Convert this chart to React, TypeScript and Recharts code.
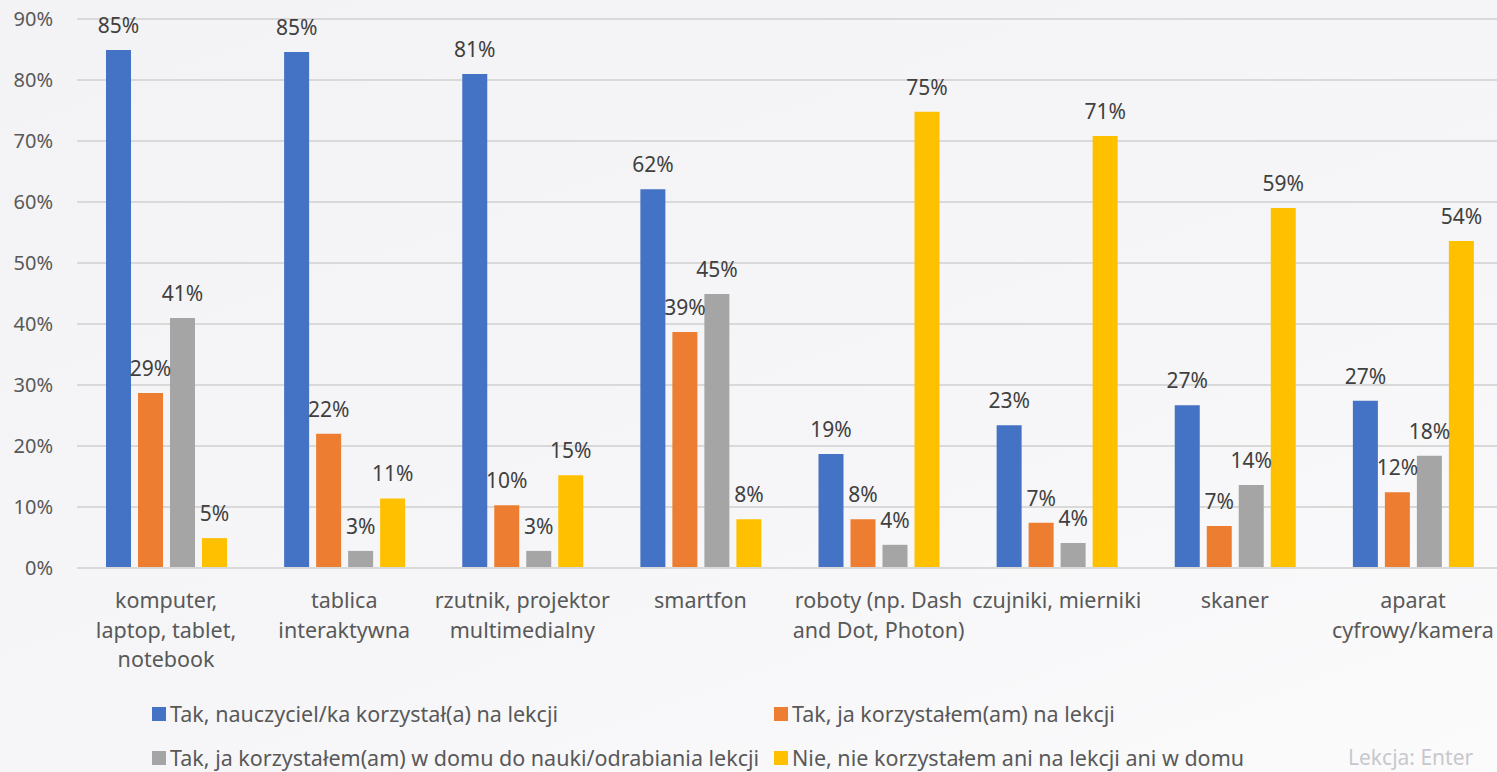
import { BarChart, Bar, XAxis, YAxis, CartesianGrid, LabelList } from 'recharts';

const categories = [
  'komputer,\nlaptop, tablet,\nnotebook',
  'tablica\ninteraktywna',
  'rzutnik, projektor\nmultimedialny',
  'smartfon',
  'roboty (np. Dash\nand Dot, Photon)',
  'czujniki, mierniki',
  'skaner',
  'aparat\ncyfrowy/kamera',
];

const teacherUsed = [84.9, 84.6, 81.0, 62.1, 18.7, 23.4, 26.7, 27.4];
const iUsedInClass = [28.7, 22.0, 10.3, 38.7, 8.0, 7.4, 6.9, 12.4];
const iUsedAtHome = [41.0, 2.8, 2.8, 44.9, 3.8, 4.1, 13.6, 18.4];
const notUsed = [4.9, 11.4, 15.2, 8.0, 74.8, 70.8, 59.0, 53.6];

const yTicks = [0, 10, 20, 30, 40, 50, 60, 70, 80, 90];

const series = [
  { key: 'teacher', name: 'Tak, nauczyciel/ka korzystał(a) na lekcji', color: '#4472c4', values: teacherUsed },
  { key: 'inClass', name: 'Tak, ja korzystałem(am) na lekcji', color: '#ed7d31', values: iUsedInClass },
  { key: 'atHome', name: 'Tak, ja korzystałem(am) w domu do nauki/odrabiania lekcji', color: '#a5a5a5', values: iUsedAtHome },
  { key: 'none', name: 'Nie, nie korzystałem ani na lekcji ani w domu', color: '#ffc000', values: notUsed },
];

const data = categories.map((c, i) => {
  const row: Record<string, string | number> = { category: c };
  series.forEach(s => {
    row[s.key] = s.values[i];
  });
  return row;
});

const FONT = '"Noto Sans", "Open Sans", sans-serif';

function CategoryTick(props: any) {
  const { x, y, payload } = props;
  const lines = String(payload.value).split('\n');
  return (
    <text x={x} y={y} textAnchor="middle" fill="#595959" fontSize={21.5} fontFamily={FONT}>
      {lines.map((line, i) => (
        <tspan key={i} x={x} dy={i === 0 ? 40 : 29.5}>
          {line}
        </tspan>
      ))}
    </text>
  );
}

const legendPos = [
  { left: 152, top: 699 },
  { left: 774, top: 699 },
  { left: 152, top: 743 },
  { left: 774, top: 743 },
];

export default function App() {
  return (
    <div
      style={{
        position: 'absolute',
        left: 0,
        top: 0,
        width: 1497,
        height: 772,
        overflow: 'hidden',
        background: 'linear-gradient(160deg, #f3f3f5 0%, #f6f6f8 60%, #fbfbfc 100%)',
        fontFamily: FONT,
      }}
    >
      <BarChart
        width={1497}
        height={772}
        data={data}
        margin={{ top: 19, right: -5, left: 0, bottom: 0 }}
        barGap={7}
        barSize={25}
      >
        <CartesianGrid vertical={false} stroke="#d9d9d9" strokeWidth={2} />
        <XAxis
          dataKey="category"
          height={204}
          interval={0}
          tickLine={false}
          tickSize={0}
          tickMargin={0}
          axisLine={{ stroke: '#d9d9d9', strokeWidth: 2 }}
          tick={<CategoryTick />}
        />
        <YAxis
          width={77}
          domain={[0, 90]}
          ticks={yTicks}
          interval={0}
          axisLine={false}
          tickLine={false}
          tickMargin={18}
          tickFormatter={(v: number) => `${v}%`}
          tick={{ fill: '#595959', fontSize: 20, fontFamily: FONT }}
        />
        {series.map(s => (
          <Bar key={s.key} dataKey={s.key} name={s.name} fill={s.color} isAnimationActive={false}>
            <LabelList
              dataKey={s.key}
              position="top"
              offset={17}
              formatter={(v: any) => `${Math.round(Number(v))}%`}
              style={{ fill: '#404040', fontSize: 21, fontFamily: FONT }}
            />
          </Bar>
        ))}
      </BarChart>
      {series.map((s, i) => (
        <div
          key={s.key}
          style={{
            position: 'absolute',
            left: legendPos[i].left,
            top: legendPos[i].top,
            display: 'flex',
            alignItems: 'center',
            fontSize: 21.5,
            color: '#595959',
            whiteSpace: 'nowrap',
          }}
        >
          <span style={{ display: 'inline-block', width: 14, height: 14, background: s.color, marginRight: 4 }} />
          {s.name}
        </div>
      ))}
      <div
        style={{
          position: 'absolute',
          left: 1348,
          top: 743,
          fontSize: 21,
          color: '#c8c8cc',
        }}
      >
        Lekcja: Enter
      </div>
    </div>
  );
}
